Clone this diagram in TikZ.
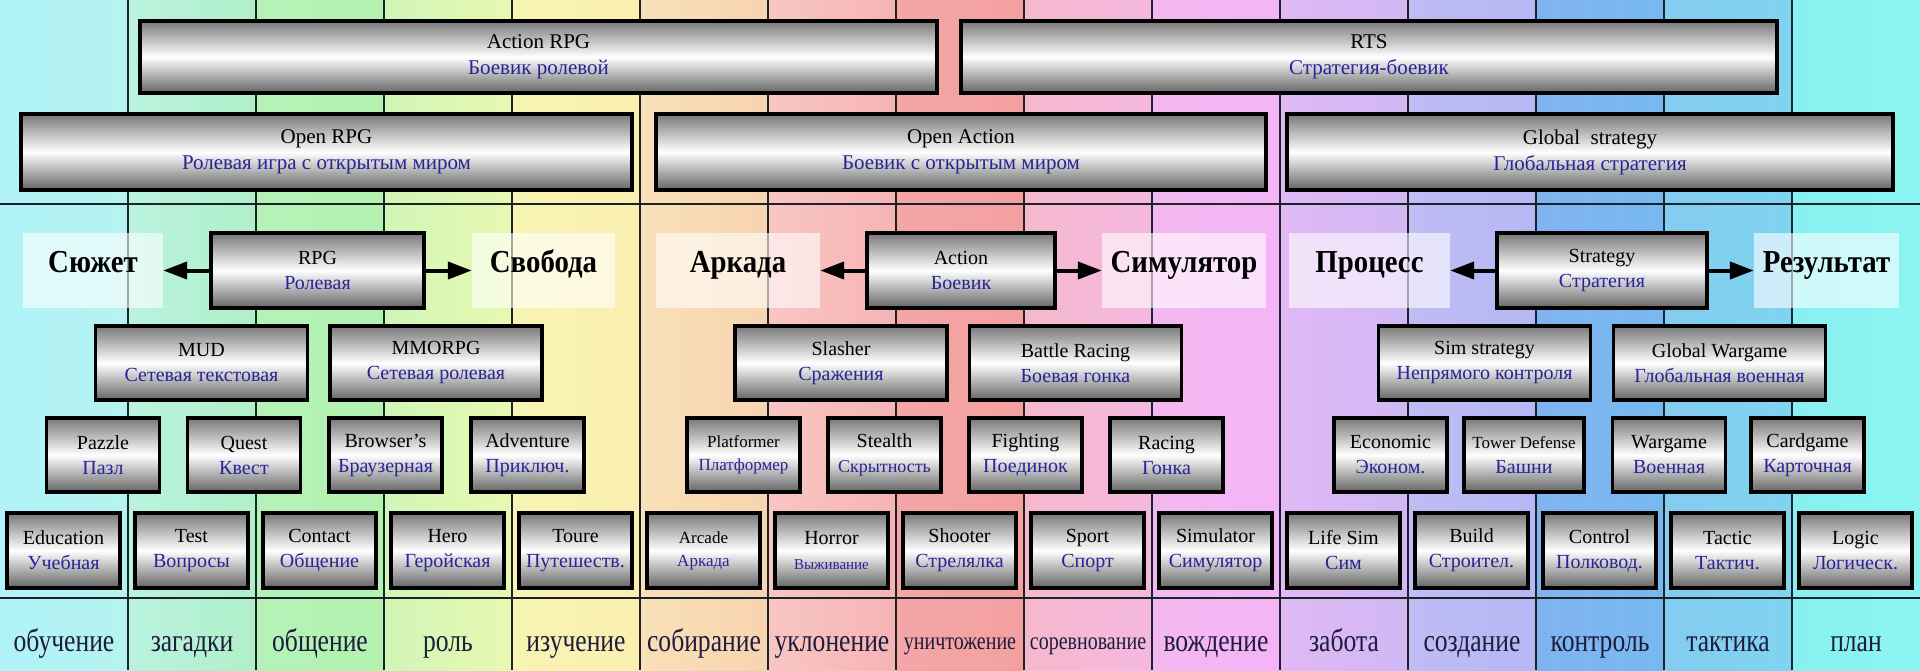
\documentclass[tikz,border=0pt]{standalone}
\usepackage{fontspec}
\setmainfont{Liberation Serif}
\newfontfamily\labfont{Liberation Serif}[FakeStretch=0.8]
\newfontfamily\headfont{Liberation Serif}[FakeStretch=0.9]
\usetikzlibrary{arrows.meta}
\definecolor{rublue}{RGB}{40,35,150}
\definecolor{labcol}{RGB}{30,28,60}
\definecolor{boxgray}{RGB}{120,120,120}
\definecolor{boxgrayb}{RGB}{100,100,100}
\definecolor{sepcol}{RGB}{25,35,40}
\definecolor{cl0}{HTML}{B0F3F8}\definecolor{cr0}{HTML}{B6F3F0}
\definecolor{cl1}{HTML}{BAF2E0}\definecolor{cr1}{HTML}{B0F0C8}
\definecolor{cl2}{HTML}{B4F2B8}\definecolor{cr2}{HTML}{B4F2B0}
\definecolor{cl3}{HTML}{D0F6B8}\definecolor{cr3}{HTML}{E8F8B0}
\definecolor{cl4}{HTML}{F8F4B4}\definecolor{cr4}{HTML}{FAEFB0}
\definecolor{cl5}{HTML}{F8E0B8}\definecolor{cr5}{HTML}{F8D4B0}
\definecolor{cl6}{HTML}{F8C6C2}\definecolor{cr6}{HTML}{F6B4B4}
\definecolor{cl7}{HTML}{F4A6A6}\definecolor{cr7}{HTML}{F4A0A0}
\definecolor{cl8}{HTML}{F6B8CC}\definecolor{cr8}{HTML}{F4B8E0}
\definecolor{cl9}{HTML}{F4B8F0}\definecolor{cr9}{HTML}{F4B4F8}
\definecolor{cl10}{HTML}{E0B8F4}\definecolor{cr10}{HTML}{D0B8F4}
\definecolor{cl11}{HTML}{C0BCF4}\definecolor{cr11}{HTML}{B4B8F4}
\definecolor{cl12}{HTML}{80B4F0}\definecolor{cr12}{HTML}{78B8F0}
\definecolor{cl13}{HTML}{84CCF0}\definecolor{cr13}{HTML}{80D4F0}
\definecolor{cl14}{HTML}{88F0F0}\definecolor{cr14}{HTML}{8CF4F0}
\newcommand{\gb}[2]{#1\\\textcolor{rublue}{#2}}
\tikzset{
  box/.style={draw=black, line width=3.5pt, top color=boxgray, bottom color=boxgrayb,
    middle color=white, inner sep=0pt, align=center, minimum height=74pt,
    font=\fontsize{20}{25}\selectfont},
  bigbox/.style={box, font=\fontsize{21}{26}\selectfont},
  smallbox/.style={box, font=\fontsize{17}{23}\selectfont},
  hd/.style={fill=white, fill opacity=0.6, text opacity=1, inner sep=0pt,
    minimum height=75pt, text height=4pt, text depth=0pt,
    font=\headfont\bfseries\fontsize{32}{36}\selectfont},
  lab/.style={anchor=base, inner sep=0pt, text=labcol,
    font=\labfont\fontsize{32}{38}\selectfont},
  smalllab/.style={lab, font=\labfont\fontsize{25}{30}\selectfont},
  sep/.style={draw=sepcol, line width=1.4pt},
  arr/.style={line width=4pt, -{Triangle[length=24pt,width=17pt]}},
}
\begin{document}
\begin{tikzpicture}[x=1pt,y=-1pt]
\useasboundingbox (0,0) rectangle (1920,670);
% column backgrounds
\foreach \i in {0,...,14}{
  \shade[left color=cl\i, right color=cr\i] ({128*\i},0) rectangle ({128*\i+128.6},670);
}
% separators
\foreach \k in {1,...,14}{
  \draw[sep] ({128*\k},0) -- ({128*\k},670);
}
\draw[sep] (0,204) -- (1920,204);
\draw[sep] (0,598) -- (1920,598);

% top rows
\node[bigbox, minimum width=797pt, minimum height=72pt] (arpg) at (538.5,57) {\gb{Action RPG}{Боевик ролевой}};
\node[bigbox, minimum width=816pt, minimum height=72pt] (rts) at (1369,57) {\gb{RTS}{Стратегия-боевик}};
\node[bigbox, minimum width=611pt, minimum height=76pt] (orpg) at (326.5,152) {\gb{Open RPG}{Ролевая игра с открытым миром}};
\node[bigbox, minimum width=610pt, minimum height=76pt] (oact) at (961,152) {\gb{Open Action}{Боевик с открытым миром}};
\node[bigbox, minimum width=606pt, minimum height=76pt] (gstr) at (1590,152) {\gb{Global\ \ strategy}{Глобальная стратегия}};

% row 2
\node[box, minimum width=213pt, minimum height=75pt] (rpg) at (317.5,270.5) {\gb{RPG}{Ролевая}};
\node[box, minimum width=188pt, minimum height=75pt] (act) at (961,270.5) {\gb{Action}{Боевик}};
\node[box, minimum width=210pt, minimum height=75pt] (str) at (1602,270.5) {\gb{Strategy}{Стратегия}};

\node[hd, minimum width=140pt] (sujet) at (93,270.5) {Сюжет};
\node[hd, minimum width=143pt] (svob) at (543.5,270.5) {Свобода};
\node[hd, minimum width=164pt] (arkada) at (738,270.5) {Аркада};
\node[hd, minimum width=164pt] (simul) at (1184,270.5) {Симулятор};
\node[hd, minimum width=161pt] (proc) at (1369.5,270.5) {Процесс};
\node[hd, minimum width=145pt] (resul) at (1826.5,270.5) {Результат};

\draw[arr] (rpg.west) -- (sujet.east);
\draw[arr] (rpg.east) -- (svob.west);
\draw[arr] (act.west) -- (arkada.east);
\draw[arr] (act.east) -- (simul.west);
\draw[arr] (str.west) -- (proc.east);
\draw[arr] (str.east) -- (resul.west);

% row 3
\node[box, minimum width=212pt] (mud) at (201.5,363) {\gb{MUD}{Сетевая текстовая}};
\node[box, minimum width=212pt] (mmorpg) at (436,363) {\gb{MMORPG}{Сетевая ролевая}};
\node[box, minimum width=212pt] (slasher) at (841,363) {\gb{Slasher}{Сражения}};
\node[box, minimum width=212pt] (battle) at (1075.5,363) {\gb{Battle Racing}{Боевая гонка}};
\node[box, minimum width=212pt] (simstr) at (1484.5,363) {\gb{Sim strategy}{Непрямого контроля}};
\node[box, minimum width=212pt] (gwar) at (1719.5,363) {\gb{Global Wargame}{Глобальная военная}};

% row 4
\node[box, minimum width=113pt] (pazzle) at (103,455) {\gb{Pazzle}{Пазл}};
\node[box, minimum width=113pt] (quest) at (244,455) {\gb{Quest}{Квест}};
\node[box, minimum width=113pt] (browser) at (385.5,455) {\gb{Browser’s}{Браузерная}};
\node[box, minimum width=113pt] (advent) at (527.5,455) {\gb{Adventure}{Приключ.}};
\node[smallbox, minimum width=113pt] (platf) at (743.5,455) {\gb{Platformer}{Платформер}};
\node[box, minimum width=113pt] (stealth) at (884.5,455) {\gb{Stealth}{{\fontsize{18}{23}\selectfont Скрытность}}};
\node[box, minimum width=113pt] (fight) at (1025.5,455) {\gb{Fighting}{Поединок}};
\node[box, minimum width=113pt] (racing) at (1166.5,455) {\gb{Racing}{Гонка}};
\node[box, minimum width=113pt] (econ) at (1390.5,455) {\gb{Economic}{Эконом.}};
\node[box, minimum width=120pt] (tower) at (1524,455) {\gb{{\fontsize{17}{23}\selectfont Tower Defense}}{Башни}};
\node[box, minimum width=113pt] (wargame) at (1669,455) {\gb{Wargame}{Военная}};
\node[box, minimum width=113pt] (cardg) at (1807.5,455) {\gb{Cardgame}{Карточная}};

% row 5
\node[box, minimum width=113pt, minimum height=75pt] (educ) at (63.5,550.5) {\gb{Education}{Учебная}};
\node[box, minimum width=113pt, minimum height=75pt] (test) at (191.5,550.5) {\gb{Test}{Вопросы}};
\node[box, minimum width=113pt, minimum height=75pt] (contact) at (319.5,550.5) {\gb{Contact}{Общение}};
\node[box, minimum width=113pt, minimum height=75pt] (hero) at (447.5,550.5) {\gb{Hero}{Геройская}};
\node[box, minimum width=113pt, minimum height=75pt] (toure) at (575.5,550.5) {\gb{Toure}{Путешеств.}};
\node[smallbox, minimum width=113pt, minimum height=75pt] (arcade) at (703.5,550.5) {\gb{Arcade}{Аркада}};
\node[box, minimum width=113pt, minimum height=75pt] (horror) at (831.5,550.5) {\gb{Horror}{{\fontsize{15}{23}\selectfont Выживание}}};
\node[box, minimum width=113pt, minimum height=75pt] (shooter) at (959.5,550.5) {\gb{Shooter}{Стрелялка}};
\node[box, minimum width=113pt, minimum height=75pt] (sport) at (1087.5,550.5) {\gb{Sport}{Спорт}};
\node[box, minimum width=113pt, minimum height=75pt] (simulator) at (1215.5,550.5) {\gb{Simulator}{Симулятор}};
\node[box, minimum width=113pt, minimum height=75pt] (lifesim) at (1343.5,550.5) {\gb{Life Sim}{Сим}};
\node[box, minimum width=113pt, minimum height=75pt] (build) at (1471.5,550.5) {\gb{Build}{Строител.}};
\node[box, minimum width=113pt, minimum height=75pt] (control) at (1599.5,550.5) {\gb{Control}{Полковод.}};
\node[box, minimum width=113pt, minimum height=75pt] (tactic) at (1727.5,550.5) {\gb{Tactic}{Тактич.}};
\node[box, minimum width=113pt, minimum height=75pt] (logic) at (1855.5,550.5) {\gb{Logic}{Логическ.}};

% bottom labels
\node[lab] (l0) at (64,651) {обучение};
\node[lab] (l1) at (192,651) {загадки};
\node[lab] (l2) at (320,651) {общение};
\node[lab] (l3) at (448,651) {роль};
\node[lab] (l4) at (576,651) {изучение};
\node[lab] (l5) at (704,651) {собирание};
\node[lab] (l6) at (832,651) {уклонение};
\node[smalllab] (l7) at (960,649) {уничтожение};
\node[smalllab] (l8) at (1088,649) {соревнование};
\node[lab] (l9) at (1216,651) {вождение};
\node[lab] (l10) at (1344,651) {забота};
\node[lab] (l11) at (1472,651) {создание};
\node[lab] (l12) at (1600,651) {контроль};
\node[lab] (l13) at (1728,651) {тактика};
\node[lab] (l14) at (1856,651) {план};
\end{tikzpicture}
\end{document}
